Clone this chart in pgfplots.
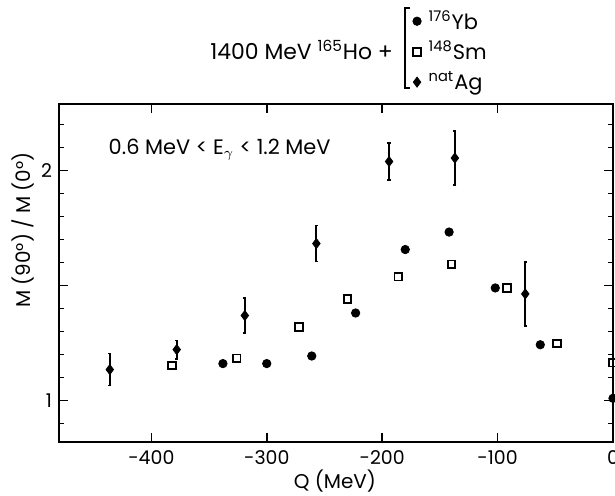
\documentclass[border=0pt]{standalone}
\usepackage{pgfplots}
\pgfplotsset{compat=1.18}
\usepackage{fontspec}
\setmainfont{Poppins}

\begin{document}
\begin{tikzpicture}
\path[use as bounding box] (0,0) rectangle (307.5bp,248bp);
\clip (0,0) rectangle (307.5bp,248bp);
\begin{axis}[
    at={(29.5bp,27bp)}, anchor=south west,
    scale only axis, width=277bp, height=169bp,
    xmin=-480, xmax=0, ymin=0.82, ymax=2.29,
    xtick={-400,-300,-200,-100,0},
    xticklabels={-400,-300,-200,-100,0},
    ytick={1,1.5,2}, yticklabels={1,,2},
    minor ytick={0.9,1.1,1.2,1.3,1.4,1.6,1.7,1.8,1.9,2.1,2.2},
    axis line style={line width=1bp},
    major tick length=4.5bp, minor tick length=2.5bp,
    every tick/.style={black, line width=0.8bp},
    tick label style={font=\fontsize{9.5}{11}\selectfont},
    xticklabel style={yshift=-1bp},
    every axis x label/.style={at={(axis description cs:0.498,-0.115)}, anchor=center},
    every axis y label/.style={at={(axis description cs:-0.065,0.627)}, rotate=90, anchor=center},
    label style={font=\fontsize{10}{12}\selectfont},
    xlabel={Q (MeV)},
    ylabel={M (90°) / M (0°)},
    legend style={at={(axis description cs:0.638,1.29)}, anchor=north west,
        draw=none, fill=none, inner sep=0pt, row sep=0.5bp,
        font=\fontsize{10.5}{12.5}\selectfont},
    legend cell align=left,
    legend image code/.code={\draw[mark repeat=2,mark phase=2,#1] plot coordinates {(0cm,0cm) (0.1cm,0cm) (0.2cm,0cm)};},
  ]
  % 176Yb
  \addplot[only marks, mark=*, mark size=2.1bp] coordinates {
    (-338,1.161) (-300,1.161) (-261,1.194) (-223,1.381) (-180,1.657)
    (-142,1.733) (-102,1.49) (-63,1.243) (0,1.01)
  };
  % 148Sm
  \addplot[only marks, mark=square, mark size=1.9bp, mark options={line width=0.9bp}] coordinates {
    (-382,1.153) (-326,1.184) (-272,1.32) (-230,1.442) (-186,1.539)
    (-140,1.593) (-92,1.49) (-48.5,1.248) (0,1.165)
  };
  % natAg
  \addplot[only marks, mark=diamond*, mark size=2.5bp,
      error bars/.cd, y dir=both, y explicit,
      error bar style={line width=0.9bp},
      error mark options={rotate=90, mark size=0.8bp, line width=0.8bp}]
    coordinates {
    (-436,1.135) +- (0,0.07)
    (-378,1.222) +- (0,0.04)
    (-319,1.37) +- (0,0.077)
    (-257,1.683) +- (0,0.078)
    (-194,2.04) +- (0,0.08)
    (-137,2.055) +- (0,0.117)
    (-76,1.464) +- (0,0.14)
  };
  \legend{\,\textsuperscript{176}Yb, \,\textsuperscript{148}Sm, \,\textsuperscript{nat}Ag}
  \node[anchor=west, font=\fontsize{10.5}{12}\selectfont] at (axis cs:-443,2.09)
    {0.6 MeV < E$_\gamma$ < 1.2 MeV};
\end{axis}
\node[anchor=east, font=\fontsize{11}{13}\selectfont] at (200bp,223bp)
  {1400 MeV \textsuperscript{165}Ho +};
\draw[line width=0.9bp] (205bp,244bp) -- (202.5bp,244bp) -- (202.5bp,204bp) -- (205bp,204bp);
\end{tikzpicture}
\end{document}
